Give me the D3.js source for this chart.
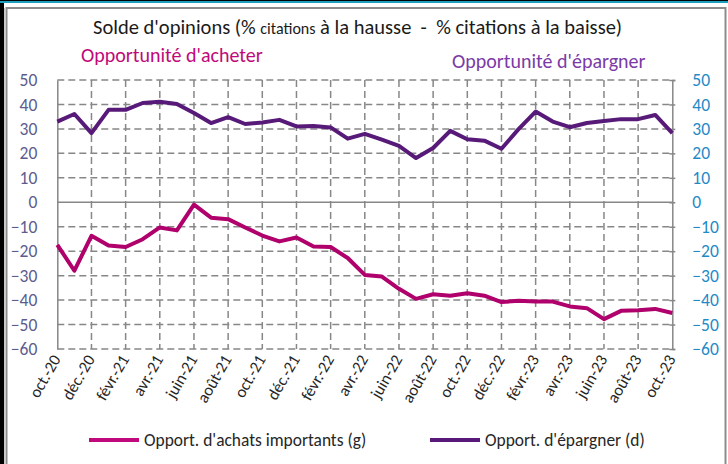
<!DOCTYPE html>
<html>
<head>
<meta charset="utf-8">
<script src="https://cdn.jsdelivr.net/npm/d3@7"></script>
<style>
  body { margin:0; background:#fff; }
  svg { display:block; font-family: Carlito, Calibri, Lato, sans-serif; }
</style>
</head>
<body>
<div id="chart"></div>
<script>
var width = 728, height = 464;

// months, oct. 2020 -> oct. 2023
var months = ["oct.-20","nov.-20","déc.-20","janv.-21","févr.-21","mars-21","avr.-21","mai-21","juin-21",
  "juil.-21","août-21","sept.-21","oct.-21","nov.-21","déc.-21","janv.-22","févr.-22","mars-22","avr.-22",
  "mai-22","juin-22","juil.-22","août-22","sept.-22","oct.-22","nov.-22","déc.-22","janv.-23","févr.-23",
  "mars-23","avr.-23","mai-23","juin-23","juil.-23","août-23","sept.-23","oct.-23"];

// Opport. d'achats importants (g)
var achats = [-17.4,-28.0,-13.7,-17.7,-18.3,-15.1,-10.3,-11.5,-1.0,-6.3,-6.9,-10.3,-13.6,-16.0,-14.4,
  -18.1,-18.3,-22.8,-29.7,-30.4,-35.4,-39.5,-37.6,-38.2,-37.2,-38.2,-40.8,-40.3,-40.6,-40.6,-42.6,-43.3,
  -47.8,-44.4,-44.2,-43.6,-45.3];

// Opport. d'épargner (d)
var epargner = [33.0,36.1,28.3,37.8,37.8,40.6,41.1,40.2,36.5,32.4,34.8,32.0,32.6,33.7,31.0,31.2,30.6,
  26.0,28.0,25.6,23.1,18.1,22.2,29.2,25.8,25.2,21.9,29.9,37.1,33.0,30.7,32.4,33.2,34.0,34.0,35.7,28.3];

var yTicks = [50,40,30,20,10,0,-10,-20,-30,-40,-50,-60];

var colAchats = "#b0006c", colEpargner = "#581a78";
var gridCol = "#878787";

var svg = d3.select("#chart").append("svg")
  .attr("width", width).attr("height", height);

// frame
svg.append("rect").attr("x",0).attr("y",0).attr("width",width).attr("height",height).attr("fill","#fff");
svg.append("rect").attr("x",6.5).attr("y",8).attr("width",719).attr("height",470)
  .attr("fill","none").attr("stroke","#8c8c8c").attr("stroke-width",2);
svg.append("rect").attr("x",0).attr("y",0).attr("width",4).attr("height",height).attr("fill","#000");
svg.append("rect").attr("x",4).attr("y",8).attr("width",2).attr("height",height).attr("fill","#c8c8c8");
svg.append("rect").attr("x",0).attr("y",0).attr("width",width).attr("height",1).attr("fill","#000");
svg.append("rect").attr("x",0).attr("y",1).attr("width",width).attr("height",2).attr("fill","#1a9fbf");

var x = d3.scalePoint().domain(months).range([57.3, 672.3]);
var y = d3.scaleLinear().domain([-60, 50]).range([349, 80]);

var g = svg.append("g");

// horizontal grid
g.selectAll("line.hgrid").data(yTicks.filter(function(d){ return d != 0; })).enter().append("line")
  .attr("class","hgrid")
  .attr("x1", x.range()[0]).attr("x2", x.range()[1])
  .attr("y1", function(d){ return y(d); }).attr("y2", function(d){ return y(d); })
  .attr("stroke", gridCol).attr("stroke-width",1.5).attr("stroke-dasharray","7,4");

// vertical grid, every 2 months
var gridMonths = months.filter(function(m,i){ return i % 2 == 0 && i > 0 && i < months.length-1; });
g.selectAll("line.vgrid").data(gridMonths).enter().append("line")
  .attr("class","vgrid")
  .attr("x1", function(d){ return x(d); }).attr("x2", function(d){ return x(d); })
  .attr("y1", y(50)).attr("y2", y(-60))
  .attr("stroke", gridCol).attr("stroke-width",1.5).attr("stroke-dasharray","7,4");

// zero line
g.append("line").attr("x1", x.range()[0]).attr("x2", x.range()[1])
  .attr("y1", y(0)).attr("y2", y(0)).attr("stroke", gridCol).attr("stroke-width",1.5);

// left axis
var left = svg.append("g").attr("transform","translate(" + x.range()[0] + ",0)")
  .call(d3.axisLeft(y).tickValues(yTicks).tickSize(0).tickPadding(20));
left.select(".domain").attr("stroke", gridCol).attr("stroke-width",1.5);
left.selectAll("text").attr("fill","#5c5c8e").style("font-size","17.5px")
  .style("font-family","Carlito, Calibri, Lato, sans-serif");

// right axis
var right = svg.append("g").attr("transform","translate(" + x.range()[1] + ",0)")
  .call(d3.axisRight(y).tickValues(yTicks).tickSize(3).tickPadding(17));
right.select(".domain").attr("stroke", gridCol).attr("stroke-width",1.5);
right.selectAll(".tick line").attr("stroke", gridCol).attr("stroke-width",1.5).attr("x1",-3);
right.selectAll("text").attr("fill","#1f8ac6").style("font-size","17.5px")
  .style("font-family","Carlito, Calibri, Lato, sans-serif");

// x tick labels, every 2 months
var labelMonths = months.filter(function(m,i){ return i % 2 == 0; });
svg.selectAll("text.xlab").data(labelMonths).enter().append("text")
  .attr("class","xlab")
  .attr("transform", function(d){ return "translate(" + (x(d)+4) + ",359) rotate(-60)"; })
  .attr("text-anchor","end")
  .attr("fill","#262626")
  .style("font-size","16.5px")
  .text(function(d){ return d; });

// lines
var line = d3.line()
  .x(function(d,i){ return x(months[i]); })
  .y(function(d){ return y(d); });

svg.append("path").datum(epargner)
  .attr("d", line).attr("fill","none")
  .attr("stroke", colEpargner).attr("stroke-width",4).attr("stroke-linejoin","round");

svg.append("path").datum(achats)
  .attr("d", line).attr("fill","none")
  .attr("stroke", colAchats).attr("stroke-width",4).attr("stroke-linejoin","round");

// titles
var title = svg.append("text").attr("x", 93).attr("y", 34)
  .attr("fill","#1a1a1a").style("font-size","20.5px").style("white-space","pre");
title.append("tspan").text("Solde d'opinions (% ");
title.append("tspan").style("font-size","16px").text("citations");
title.append("tspan").text(" à la hausse  -  % citations à la baisse)");

svg.append("text").attr("x",81).attr("y",62).attr("fill","#c0087a")
  .style("font-size","20px").text("Opportunité d'acheter");
svg.append("text").attr("x",452).attr("y",68).attr("fill","#7b3aa6")
  .style("font-size","20px").text("Opportunité d'épargner");

// legend
var legend = [
  {name:"Opport. d'achats importants (g)", color:"#c00a7c", x:89},
  {name:"Opport. d'épargner (d)", color:colEpargner, x:430}
];
var lg = svg.selectAll("g.legend").data(legend).enter().append("g")
  .attr("class","legend")
  .attr("transform", function(d){ return "translate(" + d.x + ",440)"; });
lg.append("line").attr("x1",0).attr("x2",50).attr("y1",0).attr("y2",0)
  .attr("stroke", function(d){ return d.color; }).attr("stroke-width",4);
lg.append("text").attr("x",55).attr("y",6).attr("fill","#262626")
  .style("font-size","17.4px").text(function(d){ return d.name; });
</script>
</body>
</html>
